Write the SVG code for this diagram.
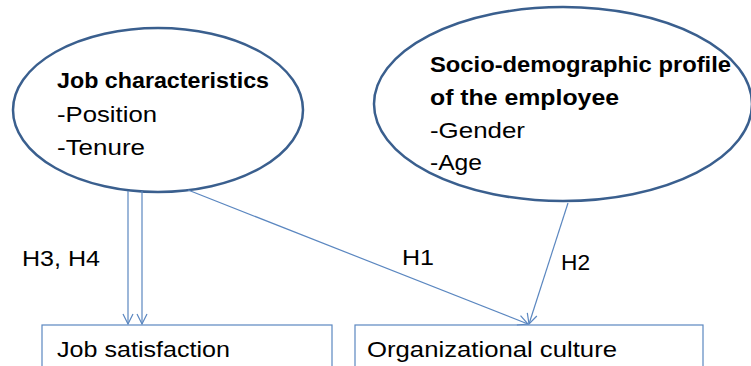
<svg xmlns="http://www.w3.org/2000/svg" width="751" height="366" viewBox="0 0 751 366">
  <defs>
    <style>
      .oval { fill: #ffffff; stroke: #3a5f8e; stroke-width: 2.5; }
      .box { fill: #ffffff; stroke: #5b87c0; stroke-width: 1.2; }
      .t { font-family: "Liberation Sans", Arial, sans-serif; font-size: 22px; fill: #000000; }
      .b { font-weight: bold; }
      .link { fill: none; stroke: #5b87c0; stroke-width: 1.2; }
    </style>
    <marker id="vee" viewBox="0 0 12 12" refX="11" refY="6" markerWidth="12" markerHeight="12" markerUnits="userSpaceOnUse" orient="auto">
      <path d="M1,1 L11,6 L1,11" fill="none" stroke="#5b87c0" stroke-width="1.2"/>
    </marker>
  </defs>
  <rect width="751" height="366" fill="#ffffff"/>

  <g id="job-characteristics">
    <ellipse class="oval" cx="158" cy="110" rx="145" ry="82"/>
    <text class="t b" x="57" y="88" textLength="212" lengthAdjust="spacingAndGlyphs">Job characteristics</text>
    <text class="t" x="57" y="122" textLength="100" lengthAdjust="spacingAndGlyphs">-Position</text>
    <text class="t" x="57" y="155" textLength="88" lengthAdjust="spacingAndGlyphs">-Tenure</text>
  </g>

  <g id="socio-demographic">
    <ellipse class="oval" cx="563" cy="104" rx="189" ry="97"/>
    <text class="t b" x="430" y="72" textLength="301" lengthAdjust="spacingAndGlyphs">Socio-demographic profile</text>
    <text class="t b" x="430" y="105" textLength="189" lengthAdjust="spacingAndGlyphs">of the employee</text>
    <text class="t" x="430" y="138" textLength="95" lengthAdjust="spacingAndGlyphs">-Gender</text>
    <text class="t" x="430" y="170" textLength="52" lengthAdjust="spacingAndGlyphs">-Age</text>
  </g>

  <g id="job-satisfaction">
    <rect class="box" x="42" y="325" width="290" height="60"/>
    <text class="t" x="57" y="357" textLength="173" lengthAdjust="spacingAndGlyphs">Job satisfaction</text>
  </g>

  <g id="organizational-culture">
    <rect class="box" x="355" y="325" width="348" height="60"/>
    <text class="t" x="367" y="357" textLength="250" lengthAdjust="spacingAndGlyphs">Organizational culture</text>
  </g>

  <g id="connectors">
    <line class="link" x1="128" y1="191" x2="128" y2="324" marker-end="url(#vee)"/>
    <line class="link" x1="142" y1="191" x2="142" y2="324" marker-end="url(#vee)"/>
    <line class="link" x1="188" y1="190" x2="528" y2="324" marker-end="url(#vee)"/>
    <line class="link" x1="568" y1="203" x2="529" y2="324" marker-end="url(#vee)"/>
    <text class="t" x="22" y="266" textLength="78" lengthAdjust="spacingAndGlyphs">H3, H4</text>
    <text class="t" x="402" y="265" textLength="32" lengthAdjust="spacingAndGlyphs">H1</text>
    <text class="t" x="561" y="270" textLength="29" lengthAdjust="spacingAndGlyphs">H2</text>
  </g>
</svg>
